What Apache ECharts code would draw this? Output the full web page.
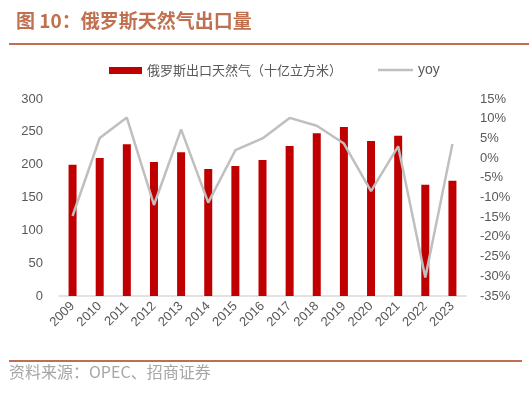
<!DOCTYPE html>
<html><head><meta charset="utf-8">
<script src="https://cdn.jsdelivr.net/npm/echarts@6/dist/echarts.min.js"></script>
<style>html,body{margin:0;padding:0;background:#fff;}#c{width:529px;height:393px;}</style>
</head><body><div id="c"></div>
<script>
const years = ['2009','2010','2011','2012','2013','2014','2015','2016','2017','2018','2019','2020','2021','2022','2023'];
const exportVolume = [200, 210, 231, 204, 219, 193.5, 198, 207, 228.5, 248, 257.5, 236, 244, 169.5, 175.5];
const yoy = [-14.7, 5.1, 10.3, -11.9, 7.3, -11.3, 2.0, 5.0, 10.2, 8.2, 3.7, -8.4, 3.0, -30.3, 3.6];
const leftTicks = {min: 0, max: 300, interval: 50};
const rightTicks = {min: -35, max: 15, interval: 5};
const barName = '俄罗斯出口天然气（十亿立方米）';
const lineName = 'yoy';

const chart = echarts.init(document.getElementById('c'), null, {renderer: 'canvas'});
const txt = '#595959';
chart.setOption({
  animation: false,
  textStyle: {fontFamily: 'Arial, "Liberation Sans", "Noto Sans CJK SC", sans-serif'},
  title: {
    text: '图 10：俄罗斯天然气出口量',
    left: 11, top: 6,
    textStyle: {fontSize: 19, fontWeight: 'bold', color: '#C0704F', fontFamily: '"Noto Sans CJK SC", sans-serif'}
  },
  graphic: [
    {type: 'rect', shape: {x: 9, y: 43, width: 520, height: 2}, style: {fill: '#C0704F'}},
    {type: 'rect', shape: {x: 9, y: 360, width: 513, height: 2}, style: {fill: '#C0704F'}},
    {type: 'text', left: 9, top: 364, style: {text: '资料来源：OPEC、招商证券', fill: '#A6A6A6', fontSize: 16, fontFamily: '"Noto Sans CJK SC", sans-serif'}}
  ],
  legend: [
    {data: [barName], left: 104, top: 59, icon: 'rect', itemWidth: 33, itemHeight: 7, itemGap: 5,
     textStyle: {color: txt, fontSize: 13, fontFamily: '"Noto Sans CJK SC", serif'}},
    {data: [lineName], left: 373, top: 58, icon: 'rect', itemWidth: 35, itemHeight: 2.5, itemGap: 2,
     itemStyle: {color: '#BFBFBF'}, textStyle: {color: txt, fontSize: 14}}
  ],
  grid: {left: 59, right: 63, top: 99, bottom: 97, containLabel: false},
  xAxis: {
    type: 'category', data: years,
    axisLine: {lineStyle: {color: '#D9D9D9', width: 1.5}},
    axisTick: {show: false},
    axisLabel: {rotate: 45, color: txt, fontSize: 13, interval: 0, margin: 8}
  },
  yAxis: [
    {type: 'value', min: leftTicks.min, max: leftTicks.max, interval: leftTicks.interval,
     splitLine: {show: false}, axisLine: {show: false}, axisTick: {show: false},
     axisLabel: {color: txt, fontSize: 13, margin: 16}},
    {type: 'value', min: rightTicks.min, max: rightTicks.max, interval: rightTicks.interval,
     splitLine: {show: false}, axisLine: {show: false}, axisTick: {show: false},
     axisLabel: {color: txt, fontSize: 13, margin: 14, formatter: '{value}%'}}
  ],
  series: [
    {name: barName, type: 'bar', data: exportVolume, barWidth: 8, yAxisIndex: 0,
     itemStyle: {color: '#C00000'}},
    {name: lineName, type: 'line', data: yoy, yAxisIndex: 1, symbol: 'none',
     lineStyle: {color: '#BFBFBF', width: 2.5}, itemStyle: {color: '#BFBFBF'}}
  ]
});
</script></body></html>
